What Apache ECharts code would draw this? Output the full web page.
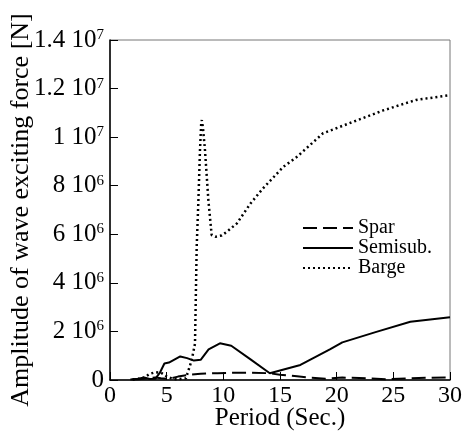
<!DOCTYPE html>
<html>
<head>
<meta charset="utf-8">
<script src="https://cdn.jsdelivr.net/npm/echarts@6/dist/echarts.min.js"></script>
<style>
  html, body { margin: 0; padding: 0; background: #fff; }
  #chart { width: 462px; height: 432px; }
</style>
</head>
<body>
<div id="chart"></div>
<script>
var sparT = [2, 2.5, 3, 3.5, 4, 4.5, 5, 5.5, 6, 7, 8, 9.5, 11, 12.5, 14, 15, 16.5, 17.5, 19, 20.5, 22, 23, 24.5, 26.5, 28, 30];
var sparF = [0.02e6, 0.03e6, 0.05e6, 0.08e6, 0.1e6, 0.07e6, 0.05e6, 0.08e6, 0.14e6, 0.22e6, 0.26e6, 0.28e6, 0.3e6, 0.3e6, 0.28e6, 0.22e6, 0.15e6, 0.1e6, 0.05e6, 0.1e6, 0.08e6, 0.06e6, 0.03e6, 0.07e6, 0.09e6, 0.11e6];

var semiT = [1.8, 2.5, 3, 3.5, 4, 4.4, 4.8, 5.2, 5.6, 6.2, 6.8, 7.4, 8, 8.7, 9.7, 10.7, 12.4, 14.1, 16.8, 19.4, 20.5, 23.5, 26.5, 30];
var semiF = [0.02e6, 0.05e6, 0.1e6, 0.04e6, 0.05e6, 0.3e6, 0.68e6, 0.72e6, 0.82e6, 0.97e6, 0.9e6, 0.8e6, 0.83e6, 1.26e6, 1.51e6, 1.41e6, 0.85e6, 0.28e6, 0.62e6, 1.26e6, 1.55e6, 1.98e6, 2.4e6, 2.58e6];

var bargeT = [2, 2.5, 3, 3.5, 4, 4.5, 5, 5.5, 6, 6.7, 7.2, 7.5, 7.65, 7.8, 7.94, 8.05, 8.1, 8.2, 8.38, 8.68, 8.97, 9.3, 9.85, 10.3, 11.2, 12.4, 13.5, 15.3, 16.5, 18.8, 21, 24.1, 27, 30];
var bargeF = [0.02e6, 0.05e6, 0.1e6, 0.25e6, 0.32e6, 0.3e6, 0.15e6, 0.05e6, 0.03e6, 0.07e6, 0.8e6, 1.5e6, 5.5e6, 7.4e6, 9.47e6, 10.6e6, 10.7e6, 10.4e6, 9.47e6, 7.4e6, 5.97e6, 5.9e6, 5.95e6, 6.1e6, 6.45e6, 7.27e6, 7.89e6, 8.78e6, 9.19e6, 10.16e6, 10.55e6, 11.1e6, 11.53e6, 11.73e6];

var seriesNames = ['Spar', 'Semisub.', 'Barge'];

function pairs(xs, ys) {
  return xs.map(function (x, i) { return [x, ys[i]]; });
}

var font = 'Liberation Serif';

var chart = echarts.init(document.getElementById('chart'));

var option = {
  backgroundColor: '#fff',
  animation: false,
  grid: {
    left: 110, right: 12, top: 40, bottom: 52,
    outerBoundsMode: 'none',
    containLabel: false,
    show: true, borderColor: '#777', borderWidth: 1
  },
  legend: {
    orient: 'vertical',
    left: 297,
    top: 213,
    itemWidth: 50,
    itemHeight: 14,
    itemGap: 0,
    data: seriesNames,
    itemStyle: { opacity: 0 },
    textStyle: { fontFamily: font, fontSize: 20, color: '#000', lineHeight: 19 }
  },
  xAxis: {
    type: 'value',
    min: 0, max: 30, interval: 5,
    name: 'Period (Sec.)',
    nameLocation: 'middle',
    nameGap: 26,
    nameMoveOverlap: false,
    nameTextStyle: { fontFamily: font, fontSize: 25, color: '#000' },
    axisLine: { lineStyle: { color: '#000', width: 1.5 } },
    axisTick: { inside: true, length: 8, lineStyle: { color: '#000' } },
    axisLabel: { fontFamily: font, fontSize: 24, color: '#000', margin: 4 },
    splitLine: { show: false }
  },
  yAxis: {
    type: 'value',
    min: 0, max: 1.4e7, interval: 2e6,
    name: 'Amplitude of wave exciting force [N]',
    nameLocation: 'middle',
    nameGap: 76,
    nameMoveOverlap: false,
    nameTextStyle: { fontFamily: font, fontSize: 26, color: '#000' },
    axisLine: { lineStyle: { color: '#000', width: 1.5 } },
    axisTick: { inside: true, length: 8, lineStyle: { color: '#000' } },
    axisLabel: {
      margin: 6,
      formatter: function (v) {
        if (v === 0) return '{b|0}';
        var e = v >= 1e7 ? 7 : 6;
        var m = Math.round(v / Math.pow(10, e) * 10) / 10;
        return '{b|' + m + ' 10}{s|' + e + '}';
      },
      rich: {
        b: { fontFamily: font, fontSize: 25, color: '#000' },
        s: { fontFamily: font, fontSize: 15, color: '#000', verticalAlign: 'top', padding: [0, 0, 10, 0] }
      }
    },
    splitLine: { show: false }
  },
  series: [
    {
      name: 'Spar', type: 'line', symbol: 'none',
      lineStyle: { color: '#000', width: 2, type: [14, 6] },
      itemStyle: { color: '#000' },
      data: pairs(sparT, sparF)
    },
    {
      name: 'Semisub.', type: 'line', symbol: 'none',
      lineStyle: { color: '#000', width: 2 },
      itemStyle: { color: '#000' },
      data: pairs(semiT, semiF)
    },
    {
      name: 'Barge', type: 'line', symbol: 'none',
      lineStyle: { color: '#000', width: 2.5, type: [2, 3] },
      itemStyle: { color: '#000' },
      data: pairs(bargeT, bargeF)
    }
  ]
};

chart.setOption(option);
</script>
</body>
</html>
